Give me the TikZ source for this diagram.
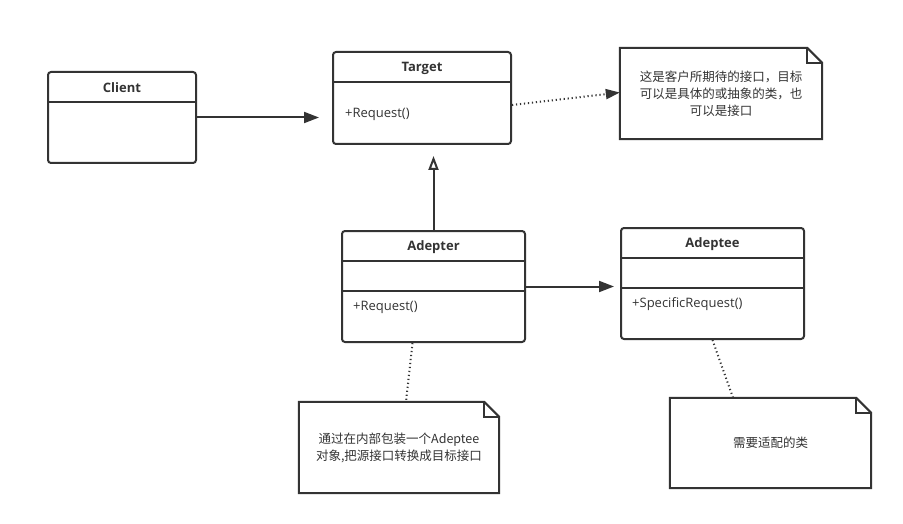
\documentclass[tikz,border=0pt]{standalone}
\usepackage{fontspec}
\setmainfont{Open Sans}
\newfontfamily\cjk{Noto Sans CJK SC}
\usetikzlibrary{arrows.meta, positioning}
\definecolor{ink}{HTML}{333333}
\tikzset{
  classbox/.style={rectangle,draw=ink,line width=2pt,rounded corners=3pt,inner sep=0pt},
  classname/.style={font=\fontsize{13}{15}\selectfont\bfseries,text=ink,inner sep=0pt},
  member/.style={font=\fontsize{13}{15}\selectfont,text=ink,anchor=west,inner sep=0pt},
  notebox/.style={rectangle,inner sep=0pt,align=center,text=ink,font=\cjk\fontsize{12.5}{17}\selectfont},
  noteline/.style={draw=ink,line width=2pt,line join=miter},
  line/.style={draw=ink,line width=2pt,-{Triangle[length=15pt,width=11pt]}},
  realize/.style={draw=ink,line width=2pt,-{Triangle[open,length=14pt,width=10pt]}},
  dotline/.style={draw=ink,line width=2pt,dash pattern=on 1.2pt off 2.8pt}
}

\begin{document}
\begin{tikzpicture}[x=1pt,y=-1pt]
\useasboundingbox (0,0) rectangle (903,524);
% classes
\node[classbox, minimum width=148pt, minimum height=91pt] (client) at (122,117.5) {};
\node[classname] (clientname) at (122,88) {Client};
\draw[noteline] (client.west |- 0,102) -- (client.east |- 0,102);

\node[classbox, minimum width=178pt, minimum height=92pt] (target) at (422,98) {};
\node[classname] (targetname) at (422,68.5) {Target};
\draw[noteline] (target.west |- 0,82) -- (target.east |- 0,82);
\node[member] (targetop) at (345,114) {+Request()};

\node[classbox, minimum width=183pt, minimum height=111pt] (adepter) at (433.5,286.5) {};
\node[classname] (adeptername) at (433.5,247.5) {Adepter};
\draw[noteline] (adepter.west |- 0,261) -- (adepter.east |- 0,261);
\draw[noteline] (adepter.west |- 0,291) -- (adepter.east |- 0,291);
\node[member] (adepterop) at (353,307) {+Request()};

\node[classbox, minimum width=183pt, minimum height=111pt] (adeptee) at (712.5,283.5) {};
\node[classname] (adepteename) at (712.5,244.5) {Adeptee};
\draw[noteline] (adeptee.west |- 0,258) -- (adeptee.east |- 0,258);
\draw[noteline] (adeptee.west |- 0,288) -- (adeptee.east |- 0,288);
\node[member] (adepteeop) at (632,304) {+SpecificRequest()};

% notes
\node[notebox, minimum width=202pt, minimum height=91pt] (note1) at (721,93.5)
  {这是客户所期待的接口，目标\\可以是具体的或抽象的类，也\\可以是接口};
\node[notebox, minimum width=200pt, minimum height=91pt] (note2) at (399,447.5)
  {通过在内部包装一个Adeptee\\对象,把源接口转换成目标接口};
\node[notebox, minimum width=201pt, minimum height=90pt] (note3) at (770.5,443)
  {需要适配的类};
\foreach \n in {note1,note2,note3}{
  \draw[noteline] (\n.north west) -- ([xshift=-15pt]\n.north east) -- ([yshift=-15pt]\n.north east)
    -- (\n.south east) -- (\n.south west) -- cycle;
  \draw[noteline] ([xshift=-15pt]\n.north east) -- ([xshift=-15pt,yshift=-15pt]\n.north east)
    -- ([yshift=-15pt]\n.north east);
}

% connectors
\draw[line, shorten >=13pt] (client.east) -- (client.east -| target.west);
\draw[realize, shorten >=11pt] (adepter.north) -- (adepter.north |- target.south);
\draw[line, shorten >=6pt] (adepter.east) -- (adepter.east -| adeptee.west);
\draw[dotline, -{Triangle[length=14pt,width=10pt]}] ([yshift=-7pt]target.east) -- ([yshift=1pt]note1.west);
\draw[dotline] ([xshift=-21pt]adepter.south) -- ([xshift=7pt]note2.north);
\draw[dotline] (adeptee.south) -- ([xshift=-37.5pt]note3.north);
\end{tikzpicture}
\end{document}
